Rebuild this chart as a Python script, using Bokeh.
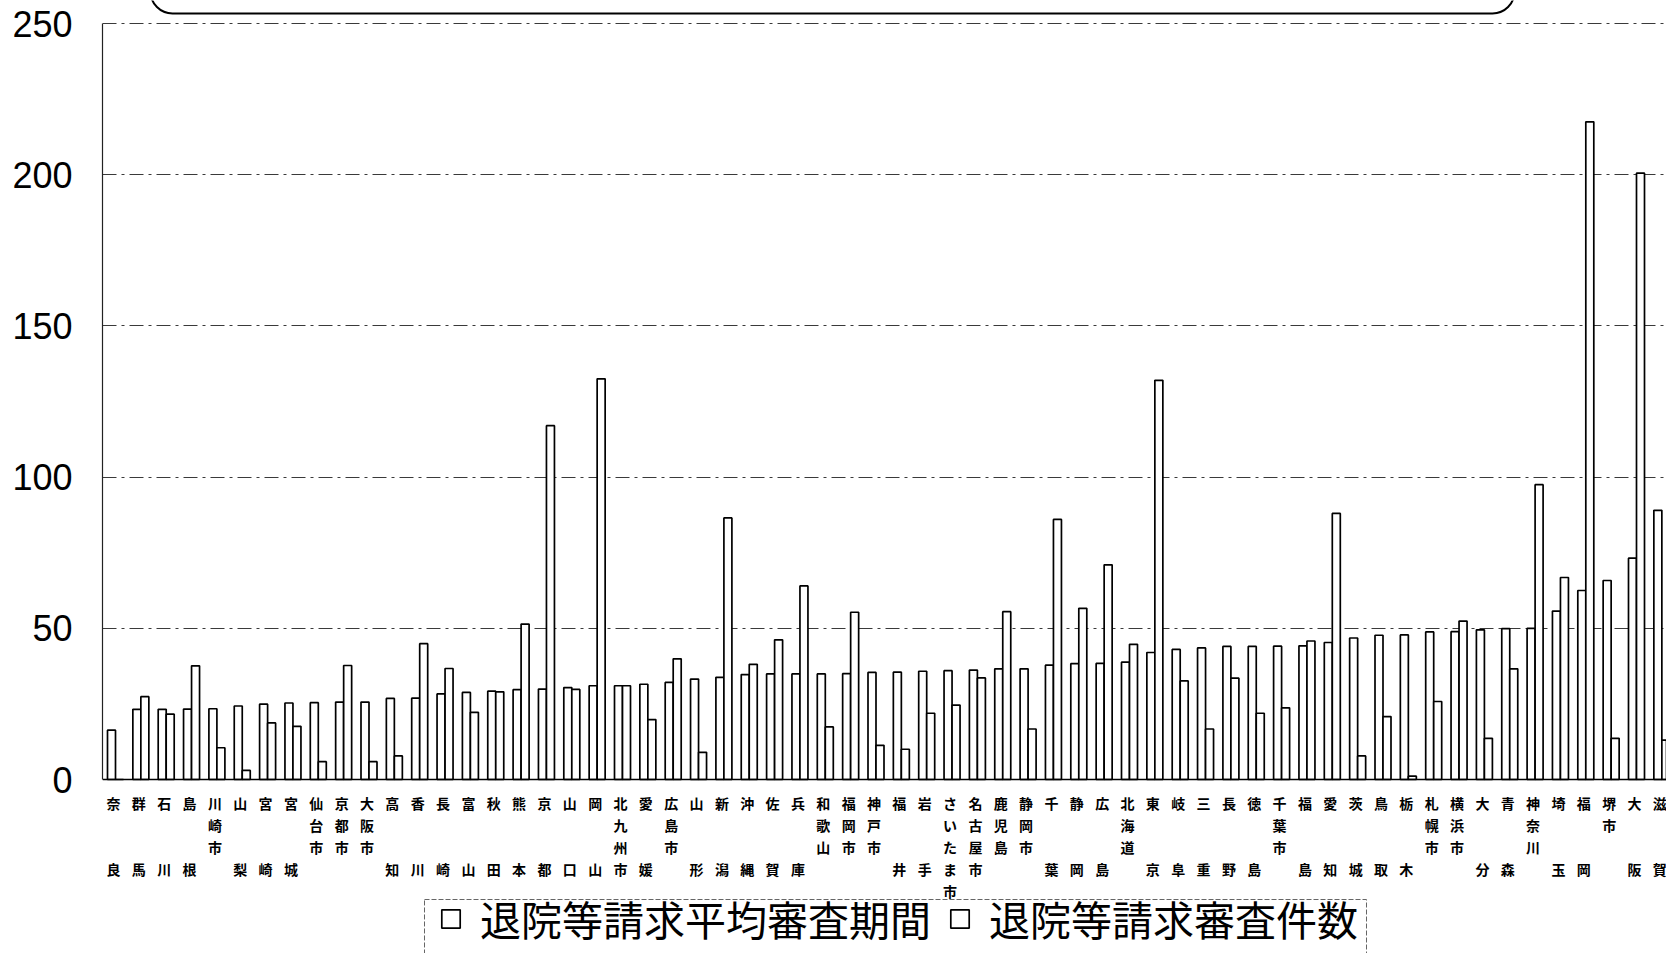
from bokeh.plotting import figure
from bokeh.models import (Range1d, ColumnDataSource, BoxAnnotation,
                          Legend, LegendItem, FixedTicker)
from bokeh.transform import dodge
from bokeh.core.properties import value
from bokeh.embed import file_html
from bokeh.resources import INLINE

# ---------------- data ----------------
categories = [
    "奈良", "群馬", "石川", "島根", "川崎市", "山梨", "宮崎", "宮城", "仙台市", "京都市",
    "大阪市", "高知", "香川", "長崎", "富山", "秋田", "熊本", "京都", "山口", "岡山",
    "北九州市", "愛媛", "広島市", "山形", "新潟", "沖縄", "佐賀", "兵庫", "和歌山", "福岡市",
    "神戸市", "福井", "岩手", "さいたま市", "名古屋市", "鹿児島", "静岡市", "千葉", "静岡", "広島",
    "北海道", "東京", "岐阜", "三重", "長野", "徳島", "千葉市", "福島", "愛知", "茨城",
    "鳥取", "栃木", "札幌市", "横浜市", "大分", "青森", "神奈川", "埼玉", "福岡", "堺市",
    "大阪", "滋賀",
]
avg_review_period = [
    16.3, 23.2, 23.2, 23.3, 23.4, 24.3, 24.9, 25.3, 25.4, 25.6,
    25.6, 26.8, 26.9, 28.3, 28.8, 29.2, 29.7, 29.9, 30.4, 31.0,
    31.0, 31.5, 32.1, 33.2, 33.8, 34.7, 34.9, 34.9, 34.9, 35.0,
    35.4, 35.5, 35.8, 36.0, 36.2, 36.6, 36.6, 37.8, 38.3, 38.4,
    38.8, 42.0, 43.0, 43.5, 44.0, 44.0, 44.1, 44.2, 45.3, 46.8,
    47.7, 47.8, 48.8, 48.9, 49.5, 49.9, 50.0, 55.7, 62.5, 65.8,
    73.2, 89.0,
]
review_count = [
    0.0, 27.4, 21.6, 37.6, 10.5, 3.0, 18.7, 17.6, 5.9, 37.7,
    5.9, 7.8, 44.9, 36.7, 22.2, 29.0, 51.4, 117.0, 29.8, 132.5,
    31.0, 19.8, 39.9, 9.0, 86.5, 38.1, 46.2, 64.0, 17.4, 55.3,
    11.3, 10.0, 21.9, 24.6, 33.6, 55.5, 16.7, 86.0, 56.6, 71.0,
    44.7, 132.0, 32.6, 16.7, 33.5, 21.9, 23.7, 45.8, 88.0, 7.8,
    20.8, 1.1, 25.8, 52.4, 13.6, 36.6, 97.5, 66.8, 217.5, 13.6,
    200.5, 13.0,
]
y_ticks = [0, 50, 100, 150, 200, 250]
series_names = ["退院等請求平均審査期間", "退院等請求審査件数"]

# ---------------- layout constants (pixels) ----------------
W, H = 1666, 953
LEFT = 102          # x of the value axis
BASE = 779          # y of value 0
TOP = 23            # y of value 250
px_per_unit = (BASE - TOP) / 250.0
cat_step = 25.35    # px between categories
cat0 = 115.0        # px of first category centre


def xd(px):
    return (px - cat0) / cat_step


def yd(py):
    return (BASE - py) / px_per_unit


x_start, x_end = xd(LEFT), xd(W)
y_start, y_end = yd(H), yd(0)

p = figure(width=W, height=H, output_backend="svg", toolbar_location=None,
           x_range=Range1d(x_start, x_end), y_range=Range1d(y_start, y_end),
           x_axis_location=None, y_axis_location="left",
           min_border_left=LEFT, min_border_right=0, min_border_top=0,
           min_border_bottom=0)
p.outline_line_color = None
p.background_fill_color = "white"
p.border_fill_color = "white"
p.xgrid.grid_line_color = None

p.ygrid.ticker = FixedTicker(ticks=y_ticks[1:])
p.ygrid.grid_line_color = "#3a3a3a"
p.ygrid.grid_line_width = 1
p.ygrid.grid_line_dash = "14 5 3 5"

ax = p.yaxis[0]
ax.ticker = FixedTicker(ticks=y_ticks)
ax.bounds = (0, 250)
ax.major_label_text_font = "Liberation Sans"
ax.major_label_text_font_size = "36px"
ax.major_label_text_color = "black"
ax.major_tick_out = 0
ax.major_tick_in = 0
ax.minor_tick_out = 0
ax.minor_tick_in = 0
ax.major_label_standoff = 30
ax.axis_line_color = "#222222"
ax.axis_line_width = 1.2

src = ColumnDataSource(dict(x=list(range(len(categories))), cat=categories,
                            a=avg_review_period, b=review_count))
BW = 8 / cat_step
r1 = p.vbar(x=dodge("x", -BW / 2), top="a", width=BW, source=src,
            fill_color="white", line_color="black", line_width=1.7)
r2 = p.vbar(x=dodge("x", BW / 2), top="b", width=BW, source=src,
            fill_color="white", line_color="black", line_width=1.7)

# baseline at 0
p.segment(x0=[x_start], y0=[0], x1=[x_end], y1=[0], line_color="black", line_width=1.5)

# ---------------- vertical category labels ----------------
lx, ly, lt = [], [], []
for i, name in enumerate(categories):
    chars = list(name)
    if len(chars) == 2 and not name.endswith("市"):
        slots = [0, 3]
    else:
        slots = list(range(len(chars)))
    for ch, s in zip(chars, slots):
        lx.append(i)
        ly.append(yd(802 + 22 * s))
        lt.append(ch)
lab_src = ColumnDataSource(dict(x=lx, y=ly, t=lt))
p.text(x="x", y="y", text="t", source=lab_src, x_offset=-2,
       text_align="center", text_baseline="middle",
       text_font=value("Noto Sans CJK JP"), text_font_size="14px",
       text_font_style="bold", text_color="black")

# ---------------- top (cut-off) rounded box ----------------
p.add_layout(BoxAnnotation(left=xd(150), right=xd(1514),
                           bottom=yd(13), top=y_end + 40,
                           fill_color=None, fill_alpha=0, line_color="black", line_width=2,
                           line_alpha=1, border_radius=22))

# ---------------- legend frame (cut at the bottom) ----------------
p.add_layout(BoxAnnotation(left=xd(424), right=xd(1366),
                           top=yd(899), bottom=y_start - 20,
                           fill_color=None, fill_alpha=0, line_color="#666666",
                           line_width=1, line_dash="5 2", line_alpha=1))

# ---------------- legend ----------------
legend = Legend(items=[LegendItem(label=series_names[0], renderers=[r1]),
                       LegendItem(label=series_names[1], renderers=[r2])],
                orientation="horizontal", location=(439 - LEFT, 5),
                label_text_font="Noto Sans CJK JP", label_text_font_size="41px",
                label_text_color="black", glyph_width=23, glyph_height=23,
                label_standoff=18, spacing=17, padding=0, margin=0,
                border_line_color=None, background_fill_alpha=0)
p.add_layout(legend)

open("out.html", "w").write(file_html(p, INLINE))
